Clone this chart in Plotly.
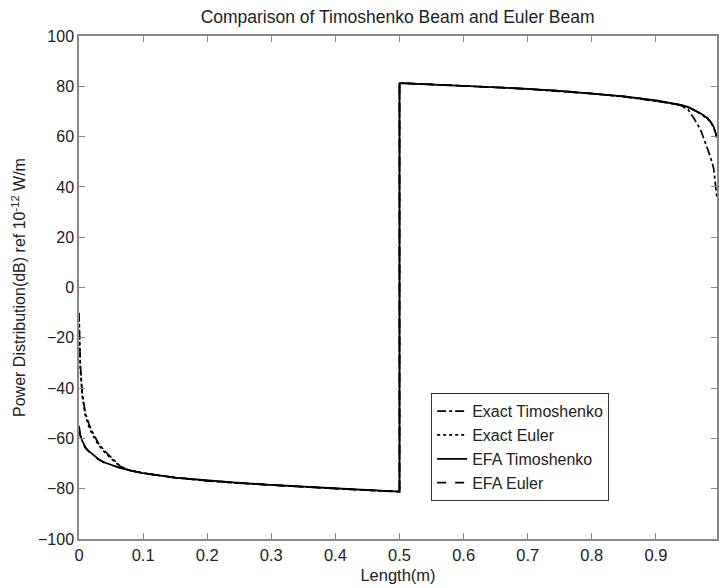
import plotly.graph_objects as go

# ---- data ----
x_left = [0.0, 0.002, 0.005, 0.01, 0.015, 0.02, 0.03, 0.04, 0.05, 0.065, 0.08, 0.1,
          0.15, 0.2, 0.25, 0.3, 0.35, 0.4, 0.45, 0.5]
efa_tim_left = [-55, -58.5, -61, -63.5, -65, -66.2, -68.2, -69.6, -70.6, -71.8, -72.7, -73.8,
                -75.6, -76.8, -77.7, -78.5, -79.2, -79.9, -80.5, -81.2]
exact_tim_left = [-10, -30, -42, -50, -54, -57, -61.8, -65, -67.5, -71.2, -72.8, -73.8,
                  -75.6, -76.9, -77.8, -78.6, -79.3, -80.0, -80.6, -81.2]
exact_eul_left = [-12, -32, -43, -51, -55, -58, -62.5, -65.5, -68, -71.3, -72.8, -73.8,
                  -75.6, -76.9, -77.8, -78.6, -79.3, -80.0, -80.6, -81.2]
efa_eul_left = [-56, -59, -61.5, -63.8, -65.2, -66.4, -68.3, -69.7, -70.7, -71.9, -72.8, -73.8,
                -75.6, -76.8, -77.7, -78.5, -79.2, -79.9, -80.5, -81.2]

x_right = [0.5, 0.55, 0.6, 0.65, 0.7, 0.75, 0.8, 0.85, 0.9, 0.92, 0.94, 0.95, 0.96,
           0.97, 0.98, 0.985, 0.99, 0.995]
efa_tim_right = [81.3, 80.8, 80.3, 79.7, 79.0, 78.2, 77.2, 76.0, 74.4, 73.5, 72.5, 71.8,
                 70.6, 69.2, 67.4, 66.0, 64.0, 60.0]
exact_tim_right = [81.3, 80.8, 80.3, 79.6, 78.9, 78.1, 77.1, 75.9, 74.3, 73.4, 72.3, 70.8,
                   67.0, 62.5, 55.5, 52.0, 47.5, 36.0]
exact_eul_right = [81.3, 80.8, 80.2, 79.6, 78.9, 78.1, 77.1, 75.9, 74.3, 73.4, 72.4, 71.6,
                   70.4, 69.0, 67.2, 65.8, 63.8, 59.5]
efa_eul_right = [81.3, 80.8, 80.3, 79.7, 79.0, 78.2, 77.2, 76.0, 74.4, 73.5, 72.5, 71.8,
                 70.6, 69.2, 67.4, 66.0, 64.0, 60.0]

x_all = x_left + x_right
series = [
    ("Exact Timoshenko", exact_tim_left + exact_tim_right, "dashdot"),
    ("Exact Euler", exact_eul_left + exact_eul_right, "dot"),
    ("EFA Timoshenko", efa_tim_left + efa_tim_right, "solid"),
    ("EFA Euler", efa_eul_left + efa_eul_right, "dash"),
]

y_ticks = list(range(-100, 101, 20))
x_ticks = [0, 0.1, 0.2, 0.3, 0.4, 0.5, 0.6, 0.7, 0.8, 0.9]

FONT = "Liberation Sans, Arial, sans-serif"
TXT = "#222"

fig = go.Figure()
for name, ys, dash in series:
    fig.add_trace(go.Scatter(
        x=x_all, y=ys, mode="lines", name=name,
        line=dict(color="black", width=1.7, dash=dash),
    ))

fig.update_layout(
    width=719, height=588,
    margin=dict(l=79, r=0, t=36, b=49),
    paper_bgcolor="white", plot_bgcolor="white",
    font=dict(family=FONT, size=16, color=TXT),
    title=dict(text="Comparison of Timoshenko Beam and Euler Beam",
               x=0.553, xanchor="center", y=0.971, yanchor="middle",
               font=dict(family=FONT, size=17.5, color=TXT)),
    showlegend=True,
    legend=dict(x=0.552, xanchor="left", y=0.075, yanchor="bottom",
                bgcolor="white", bordercolor="#333", borderwidth=1,
                font=dict(family=FONT, size=16, color=TXT),
                tracegroupgap=0, itemwidth=30,
                entrywidth=155, entrywidthmode="pixels"),
)
fig.update_xaxes(
    range=[0, 0.9953], tickvals=x_ticks,
    ticks="inside", ticklen=6, tickcolor="#888",
    showline=True, linecolor="#888", linewidth=1.5, mirror="ticks",
    showgrid=False, zeroline=False,
    title=dict(text="Length(m)", standoff=7, font=dict(family=FONT, size=16.5, color=TXT)),
    tickfont=dict(family=FONT, size=16.5, color=TXT),
)
fig.update_yaxes(
    range=[-100, 100], tickvals=y_ticks,
    ticks="inside", ticklen=6, tickcolor="#888",
    showline=True, linecolor="#888", linewidth=1.5, mirror="ticks",
    showgrid=False, zeroline=False,
    title=dict(text="Power Distribution(dB) ref 10<sup>-12</sup> W/m", standoff=8,
               font=dict(family=FONT, size=16, color=TXT)),
    tickfont=dict(family=FONT, size=16, color=TXT),
)

fig.write_html("out.html")
